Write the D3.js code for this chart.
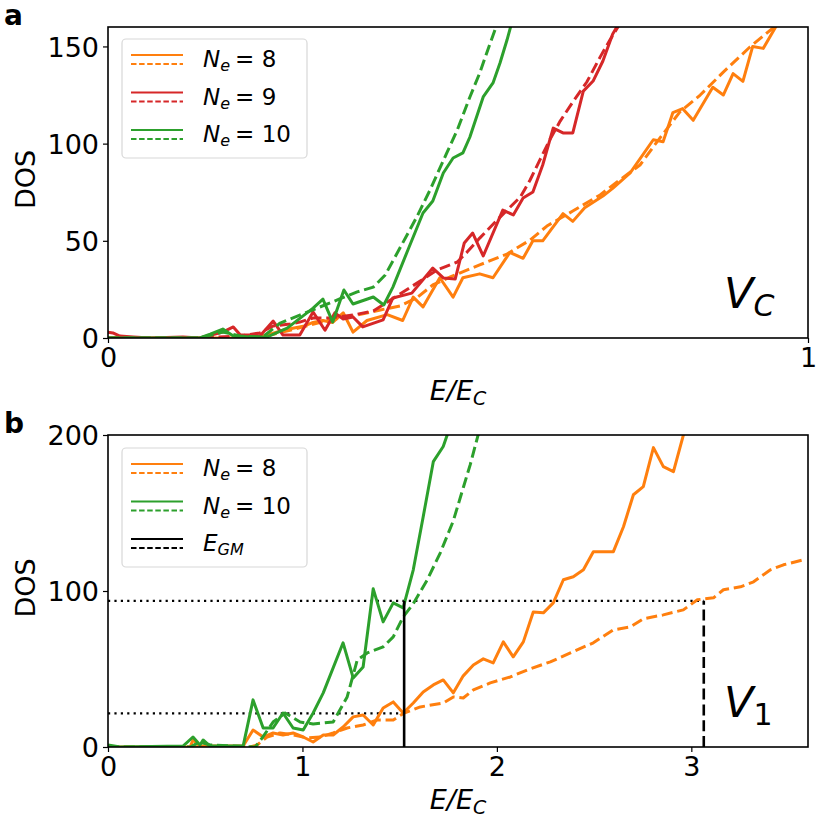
<!DOCTYPE html>
<html>
<head>
<meta charset="utf-8">
<script src="https://cdn.jsdelivr.net/npm/d3@7"></script>
<style>
  html, body { margin: 0; padding: 0; background: #fff; }
  svg { display: block; font-family: "DejaVu Sans", sans-serif; }
</style>
</head>
<body>
<svg id="chart" width="830" height="830"></svg>
<script>
// ---------- Panel a data (E/E_C, DOS) ----------
const aXTicks = [0, 1];
const aYTicks = [0, 50, 100, 150];
const aLegend = ["8", "9", "10"];

const aNe8Solid = [[0,0],[0.203,0],[0.221,1],[0.236,2.5],[0.25,4],[0.264,5],[0.279,6],[0.293,8],[0.307,9],[0.321,8],[0.336,13],[0.35,3],[0.37,9],[0.399,12],[0.421,9],[0.436,21],[0.45,16],[0.474,31],[0.493,21],[0.507,31],[0.531,33],[0.55,31],[0.574,44],[0.593,41],[0.607,50],[0.621,50],[0.65,64],[0.664,60],[0.681,67],[0.707,73],[0.721,77],[0.746,85],[0.779,102],[0.793,101],[0.807,116],[0.821,118],[0.836,112],[0.864,129],[0.879,125],[0.893,136],[0.907,132],[0.921,150],[0.936,149],[0.957,162]];
const aNe8Dashed = [[0,0],[0.203,0],[0.231,1.5],[0.26,4],[0.289,6.7],[0.317,9.3],[0.35,11.3],[0.389,14.4],[0.417,16.5],[0.441,20.6],[0.464,27.3],[0.489,31.4],[0.531,37.6],[0.57,43.2],[0.603,50.4],[0.627,57.6],[0.664,65.3],[0.703,73.6],[0.731,81.3],[0.76,89],[0.784,100.8],[0.817,116.3],[0.846,125],[0.879,136.8],[0.917,149.7],[0.95,159.5],[0.96,163]];
const aNe9Solid = [[0,3],[0.007,2.6],[0.017,1],[0.036,0.5],[0.06,0],[0.107,0.5],[0.131,0],[0.164,3],[0.179,5.7],[0.189,1.5],[0.203,1.5],[0.217,1],[0.236,8.7],[0.25,1.5],[0.274,1.5],[0.293,13.4],[0.31,4],[0.324,12.9],[0.336,9.8],[0.35,10.8],[0.364,5.7],[0.393,9.3],[0.407,20.6],[0.434,23.1],[0.464,36],[0.479,30.9],[0.496,30.3],[0.509,48.9],[0.521,54],[0.536,42.2],[0.564,65.8],[0.579,63.3],[0.593,72],[0.607,75.1],[0.621,89],[0.636,108],[0.65,105.5],[0.664,105.5],[0.679,127],[0.693,132.2],[0.707,142.5],[0.721,156.4],[0.731,162.5]];
const aNe9Dashed = [[0,0],[0.131,0],[0.189,1],[0.217,2.6],[0.236,6.2],[0.26,7.2],[0.274,8.2],[0.293,10.3],[0.317,10.3],[0.35,11.8],[0.379,13.9],[0.399,18.5],[0.417,22.6],[0.446,29.3],[0.47,35],[0.499,39.1],[0.513,44.2],[0.531,51.4],[0.556,60.7],[0.57,65.8],[0.589,72.5],[0.603,81.3],[0.617,91.6],[0.631,101.9],[0.646,111.6],[0.664,121.4],[0.684,131.7],[0.703,144.5],[0.717,153.3],[0.731,161.5]];
const aNe10Solid = [[0,0],[0.131,0],[0.146,2],[0.164,4.6],[0.179,1],[0.203,0.5],[0.227,0.5],[0.256,5.1],[0.293,15.4],[0.307,20],[0.321,8.2],[0.337,24.7],[0.35,17.5],[0.379,21.1],[0.394,17],[0.407,26.2],[0.429,45.8],[0.45,64.3],[0.464,70.5],[0.479,84.9],[0.493,92.6],[0.507,95.2],[0.517,103.4],[0.536,124],[0.55,131.2],[0.56,141.5],[0.57,153.3],[0.577,162.5]];
const aNe10Dashed = [[0,0],[0.131,0],[0.164,3.1],[0.189,1],[0.221,0.5],[0.246,7.7],[0.274,11.8],[0.299,15.4],[0.331,20.1],[0.356,23.7],[0.379,26.2],[0.396,32.4],[0.421,48.9],[0.441,62.2],[0.46,76.1],[0.484,95.2],[0.499,107],[0.517,124],[0.531,136.3],[0.546,151.7],[0.557,162.6]];

// ---------- Panel b data ----------
const bXTicks = [0, 1, 2, 3];
const bYTicks = [0, 100, 200];
const bLegend = ["8", "10"];

const bNe8Solid = [[0,0],[0.422,0],[0.437,4.5],[0.473,0.6],[0.695,0.6],[0.746,10.9],[0.798,6.4],[0.849,9],[0.9,7.7],[0.952,9],[1.004,6.4],[1.055,3.2],[1.107,7.7],[1.158,7.7],[1.209,12.8],[1.261,19.3],[1.312,20.5],[1.364,14.1],[1.415,25],[1.467,28.9],[1.518,21.8],[1.57,28.2],[1.621,35.3],[1.673,39.8],[1.724,43],[1.776,34.7],[1.827,45.6],[1.879,52.6],[1.93,56.5],[1.981,53.9],[2.033,67.4],[2.084,57.8],[2.136,67.4],[2.187,86.6],[2.239,86],[2.29,92.4],[2.342,107.2],[2.393,109.1],[2.445,113.6],[2.496,125.2],[2.599,125.2],[2.651,141.2],[2.702,161.7],[2.753,166.9],[2.805,191.9],[2.856,179.7],[2.908,176.5],[2.964,202.2]];
const bNe8Dashed = [[0,0],[0.731,0],[0.767,1.3],[0.818,6.4],[0.885,9],[0.952,7.7],[1.024,5.8],[1.091,6.4],[1.158,9],[1.23,12.2],[1.312,14.1],[1.384,17.3],[1.467,17.3],[1.523,21.8],[1.606,25.7],[1.724,28.2],[1.776,32.1],[1.827,31.4],[1.879,36.6],[1.966,41.1],[2.069,44.9],[2.156,49.4],[2.275,54.6],[2.378,60.3],[2.496,66.8],[2.599,75.1],[2.687,77],[2.753,82.2],[2.856,84.7],[2.959,87.9],[3.031,94.4],[3.114,95.6],[3.165,100.8],[3.253,102.7],[3.32,105.9],[3.407,113.6],[3.474,116.8],[3.577,120]];
const bNe10Solid = [[0,1.3],[0.062,0],[0.386,0.6],[0.437,6.4],[0.473,1.3],[0.489,4.5],[0.525,0.6],[0.695,0.6],[0.746,30.2],[0.798,12.2],[0.849,12.2],[0.9,21.8],[0.952,12.2],[1.004,10.9],[1.055,21.8],[1.107,34.7],[1.209,66.8],[1.261,44.3],[1.312,51.3],[1.364,101.4],[1.415,80.2],[1.467,92.4],[1.518,89.2],[1.57,113.6],[1.621,147.6],[1.673,182.9],[1.724,192.6],[1.75,202]];
const bNe10Dashed = [[0,0],[0.422,0],[0.473,3.2],[0.525,1.3],[0.757,0],[0.793,5.8],[0.849,16],[0.911,21.8],[0.988,16],[1.055,14.8],[1.158,16],[1.23,32.1],[1.282,55.8],[1.333,60.3],[1.415,64.2],[1.467,70.6],[1.518,83.4],[1.57,91.8],[1.642,107.2],[1.709,124.5],[1.776,145],[1.827,166.2],[1.863,181],[1.904,200.3]];

// E_GM markers: [E, DOS level]
const bGMSolid = [1.523, 93.7];
const bGMDashed = [3.064, 93.7];
const bLowLevel = 21.6;

// ---------- drawing ----------
const COLORS = { "8": "#ff7f0e", "9": "#d62728", "10": "#2ca02c" };
const svg = d3.select("#chart");
const LW = 3;
const DASH = "11,4.8";

function panel(cfg) {
  const g = svg.append("g");
  const x = d3.scaleLinear().domain(cfg.xDomain).range([cfg.left, cfg.right]);
  const y = d3.scaleLinear().domain(cfg.yDomain).range([cfg.bottom, cfg.top]);
  const clipId = "clip" + cfg.id;
  svg.append("defs").append("clipPath").attr("id", clipId)
    .append("rect").attr("x", cfg.left).attr("y", cfg.top)
    .attr("width", cfg.right - cfg.left).attr("height", cfg.bottom - cfg.top);
  const plot = g.append("g").attr("clip-path", `url(#${clipId})`);
  const line = d3.line().x(d => x(d[0])).y(d => y(d[1]));
  return { g, x, y, plot, line };
}

function axes(p, cfg) {
  const { g, x, y } = p;
  const xa = g.append("g").attr("transform", `translate(0,${cfg.bottom})`)
    .call(d3.axisBottom(x).tickValues(cfg.xTicks).tickSize(5).tickPadding(4).tickFormat(d3.format("d")));
  const ya = g.append("g").attr("transform", `translate(${cfg.left},0)`)
    .call(d3.axisLeft(y).tickValues(cfg.yTicks).tickSize(5).tickPadding(4).tickFormat(d3.format("d")));
  [xa, ya].forEach(a => {
    a.select(".domain").remove();
    a.selectAll(".tick line").attr("stroke", "#000").attr("stroke-width", 1.2);
    a.selectAll(".tick text").attr("fill", "#000").attr("font-size", 27)
      .attr("font-family", "DejaVu Sans");
  });
  xa.selectAll(".tick text").attr("dy", "0.74em");
  ya.selectAll(".tick text").attr("dy", "0.36em");
  g.append("rect").attr("x", cfg.left).attr("y", cfg.top)
    .attr("width", cfg.right - cfg.left).attr("height", cfg.bottom - cfg.top)
    .attr("fill", "none").attr("stroke", "#000").attr("stroke-width", 1.6);
  // x label  E/E_C
  const xl = g.append("text").attr("x", (cfg.left + cfg.right) / 2).attr("y", cfg.bottom + 62)
    .attr("text-anchor", "middle").attr("font-size", 27).attr("font-family", "DejaVu Sans");
  xl.append("tspan").attr("font-style", "italic").text("E/E");
  xl.append("tspan").attr("font-style", "italic").attr("font-size", 19).attr("dy", 5).text("C");
  // y label
  g.append("text").attr("transform", `translate(35,${(cfg.top + cfg.bottom) / 2 - 3}) rotate(-90)`)
    .attr("text-anchor", "middle").attr("font-size", 27).attr("font-family", "DejaVu Sans").text("DOS");
  // panel letter
  g.append("text").attr("x", 4).attr("y", cfg.top - 2).attr("font-size", 28).attr("font-weight", "bold")
    .attr("font-family", "DejaVu Sans").text(cfg.letter);
}

function series(p, data, key, dashed) {
  p.plot.append("path").datum(data).attr("d", p.line)
    .attr("fill", "none").attr("stroke", COLORS[key]).attr("stroke-width", LW)
    .attr("stroke-linejoin", "round")
    .attr("stroke-dasharray", dashed ? DASH : null);
}

function legend(g, x0, y0, w, h, entries) {
  g.append("rect").attr("x", x0).attr("y", y0).attr("width", w).attr("height", h)
    .attr("rx", 4).attr("fill", "#fff").attr("fill-opacity", 0.85)
    .attr("stroke", "#d8d8d8").attr("stroke-width", 1.2);
  entries.forEach((e, i) => {
    const cy = y0 + 16 + i * 37.5;
    g.append("line").attr("x1", x0 + 9).attr("x2", x0 + 61).attr("y1", cy).attr("y2", cy)
      .attr("stroke", e.color).attr("stroke-width", 1.8);
    g.append("line").attr("x1", x0 + 9).attr("x2", x0 + 61).attr("y1", cy + 9).attr("y2", cy + 9)
      .attr("stroke", e.color).attr("stroke-width", 1.8).attr("stroke-dasharray", "5.5,2.6");
    const t = g.append("text").attr("x", x0 + 81).attr("y", cy + 12).attr("font-size", 23)
      .attr("font-family", "DejaVu Sans");
    if (e.kind === "ne") {
      t.append("tspan").attr("font-style", "italic").text("N");
      t.append("tspan").attr("font-style", "italic").attr("font-size", 16).attr("dy", 4).text("e");
      t.append("tspan").attr("dy", -4).attr("dx", 5).text("= " + e.label);
    } else {
      t.append("tspan").attr("font-style", "italic").text("E");
      t.append("tspan").attr("font-style", "italic").attr("font-size", 16).attr("dy", 4).text("GM");
    }
  });
}

// Panel a
const cfgA = { id: "a", letter: "a", left: 108, right: 808, top: 27, bottom: 338,
  xDomain: [0, 1], yDomain: [0, 160], xTicks: aXTicks, yTicks: aYTicks };
const pA = panel(cfgA);
series(pA, aNe8Solid, "8", false);
series(pA, aNe8Dashed, "8", true);
series(pA, aNe9Solid, "9", false);
series(pA, aNe9Dashed, "9", true);
series(pA, aNe10Solid, "10", false);
series(pA, aNe10Dashed, "10", true);
axes(pA, cfgA);
legend(pA.g, 122, 39, 185, 119, aLegend.map(l => ({ kind: "ne", label: l, color: COLORS[l] })));
{
  const t = pA.g.append("text").attr("x", 724).attr("y", 308).attr("font-size", 43)
    .attr("font-family", "DejaVu Sans");
  t.append("tspan").attr("font-style", "italic").text("V");
  t.append("tspan").attr("font-style", "italic").attr("font-size", 30).attr("dy", 8).text("C");
}

// Panel b
const cfgB = { id: "b", letter: "b", left: 108, right: 808, top: 435, bottom: 747,
  xDomain: [0, 3.6], yDomain: [0, 200], xTicks: bXTicks, yTicks: bYTicks };
const pB = panel(cfgB);
// reference guide lines
pB.plot.append("line").attr("x1", pB.x(0)).attr("x2", pB.x(bGMDashed[0]))
  .attr("y1", pB.y(bGMSolid[1])).attr("y2", pB.y(bGMSolid[1]))
  .attr("stroke", "#000").attr("stroke-width", 2.2).attr("stroke-dasharray", "2.2,4.2");
pB.plot.append("line").attr("x1", pB.x(0)).attr("x2", pB.x(bGMSolid[0]))
  .attr("y1", pB.y(bLowLevel)).attr("y2", pB.y(bLowLevel))
  .attr("stroke", "#000").attr("stroke-width", 2.2).attr("stroke-dasharray", "2.2,4.2");
series(pB, bNe8Solid, "8", false);
series(pB, bNe8Dashed, "8", true);
series(pB, bNe10Solid, "10", false);
series(pB, bNe10Dashed, "10", true);
pB.plot.append("line").attr("x1", pB.x(bGMSolid[0])).attr("x2", pB.x(bGMSolid[0]))
  .attr("y1", pB.y(0)).attr("y2", pB.y(bGMSolid[1]))
  .attr("stroke", "#000").attr("stroke-width", 2.6);
pB.plot.append("line").attr("x1", pB.x(bGMDashed[0])).attr("x2", pB.x(bGMDashed[0]))
  .attr("y1", pB.y(0)).attr("y2", pB.y(bGMDashed[1]))
  .attr("stroke", "#000").attr("stroke-width", 2.6).attr("stroke-dasharray", DASH);
axes(pB, cfgB);
legend(pB.g, 122, 448, 185, 119, [
  { kind: "ne", label: "8", color: COLORS["8"] },
  { kind: "ne", label: "10", color: COLORS["10"] },
  { kind: "gm", color: "#000" }
]);
{
  const t = pB.g.append("text").attr("x", 724).attr("y", 717).attr("font-size", 43)
    .attr("font-family", "DejaVu Sans");
  t.append("tspan").attr("font-style", "italic").text("V");
  t.append("tspan").attr("font-size", 30).attr("dy", 8).text("1");
}
</script>
</body>
</html>
